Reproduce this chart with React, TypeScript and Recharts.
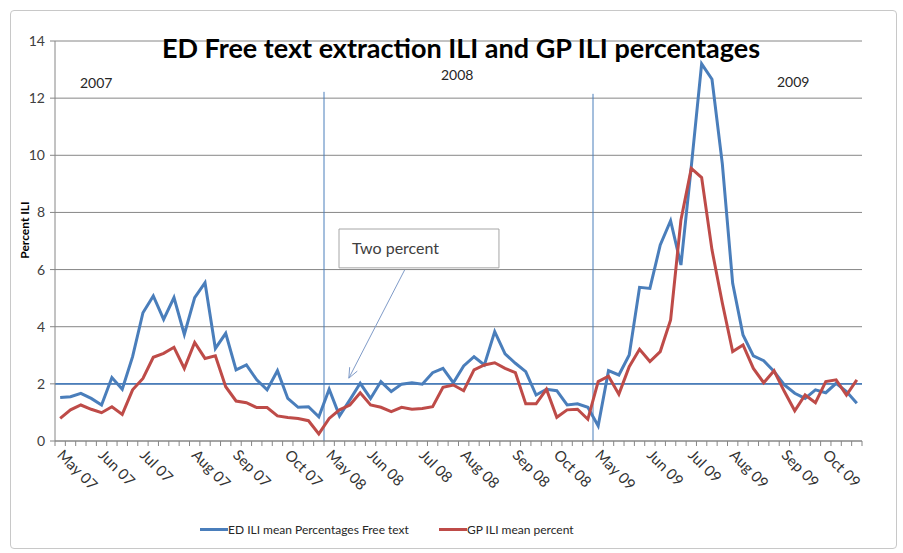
import { CartesianGrid, Legend, Line, LineChart, ReferenceArea, ReferenceLine, XAxis, YAxis } from "recharts";

// weekly points, three May–Oct seasons (26 weeks each)
const monthLabels = [
  "May 07", "Jun 07", "Jul 07", "Aug 07", "Sep 07", "Oct 07",
  "May 08", "Jun 08", "Jul 08", "Aug 08", "Sep 08", "Oct 08",
  "May 09", "Jun 09", "Jul 09", "Aug 09", "Sep 09", "Oct 09",
];
const monthStartWeek = [0, 4, 8, 13, 17, 22, 26, 30, 35, 39, 44, 48, 52, 57, 61, 65, 70, 74];

const edFreeText = [
  1.52, 1.55, 1.67, 1.49, 1.26, 2.22, 1.81, 2.95, 4.49, 5.08, 4.26, 5.02, 3.73,
  5.02, 5.54, 3.24, 3.77, 2.49, 2.66, 2.14, 1.79, 2.46, 1.49, 1.18, 1.2, 0.85,
  1.81, 0.88, 1.44, 2.02, 1.49, 2.08, 1.73, 1.99, 2.04, 1.99, 2.39, 2.54, 2.04,
  2.63, 2.95, 2.66, 3.83, 3.05, 2.72, 2.43, 1.61, 1.81, 1.76, 1.26, 1.3, 1.18,
  0.53, 2.46, 2.31, 3.01, 5.38, 5.34, 6.86, 7.71, 6.16, 9.6, 13.2, 12.66, 9.7,
  5.52, 3.71, 2.98, 2.81, 2.43, 1.96, 1.67, 1.49, 1.79, 1.69, 2.02, 1.73, 1.32,
];
const gpIli = [
  0.79, 1.09, 1.26, 1.11, 0.99, 1.2, 0.93, 1.79, 2.19, 2.93, 3.07, 3.28, 2.54,
  3.45, 2.89, 2.98, 1.9, 1.4, 1.34, 1.17, 1.17, 0.88, 0.82, 0.79, 0.71, 0.25,
  0.79, 1.09, 1.26, 1.69, 1.26, 1.18, 1.03, 1.18, 1.11, 1.14, 1.2, 1.88, 1.96,
  1.76, 2.49, 2.66, 2.74, 2.54, 2.39, 1.3, 1.3, 1.81, 0.83, 1.09, 1.11, 0.76,
  2.08, 2.27, 1.64, 2.6, 3.21, 2.78, 3.13, 4.24, 7.74, 9.54, 9.22, 6.69, 4.83,
  3.13, 3.36, 2.54, 2.04, 2.46, 1.73, 1.06, 1.61, 1.34, 2.08, 2.14, 1.61, 2.14,
];
const yTicks = [0, 2, 4, 6, 8, 10, 12, 14];
const seasonBreaks = [25.5, 51.5];

const FONT = "Lato, 'Open Sans', sans-serif";
const BLUE = "#4a7ebb";
const RED = "#be4b48";
const AXIS = "#868686";
const PLOT_LEFT = 55;
const PLOT_RIGHT = 862;
const HALF_STEP = (PLOT_RIGHT - PLOT_LEFT) / edFreeText.length / 2;

const data = edFreeText.map((ed, i) => ({ week: i, ed, gp: gpIli[i] }));
const boundaryTicks = Array.from({ length: edFreeText.length + 1 }, (_, i) => i - 0.5);

function weekLabel(i: number) {
  const k = monthStartWeek.indexOf(i);
  return k >= 0 ? monthLabels[k] : "";
}

function MonthTick({ x, y, payload }: any) {
  const label = weekLabel(payload.value + 0.5);
  if (!label) return null;
  const cx = x + HALF_STEP - 4;
  const cy = y + 8;
  return (
    <text x={cx} y={cy} transform={`rotate(45 ${cx} ${cy})`} fontSize={15} fill="#333" fontFamily={FONT}>
      {label}
    </text>
  );
}

function Arrow({ x1, y1, x2, y2 }: any) {
  const len = Math.hypot(x1 - x2, y1 - y2);
  const ux = (x1 - x2) / len;
  const uy = (y1 - y2) / len;
  const head = (a: number) => {
    const c = Math.cos(a), s = Math.sin(a);
    return `${x2 + 11 * (ux * c - uy * s)},${y2 + 11 * (ux * s + uy * c)}`;
  };
  return (
    <g stroke="#7f9bc8" strokeWidth={1} fill="none">
      <line x1={x1} y1={y1} x2={x2} y2={y2} />
      <polyline points={`${head(0.4)} ${x2},${y2} ${head(-0.4)}`} />
    </g>
  );
}

function LegendContent() {
  const item = (color: string, text: string) => (
    <span style={{ display: "inline-flex", alignItems: "center", marginRight: 30 }}>
      <span style={{ width: 28, height: 3, background: color, display: "inline-block" }} />
      <span>{text}</span>
    </span>
  );
  return (
    <div style={{ paddingLeft: 200, fontFamily: FONT, fontSize: 12, color: "#262626", height: 22, lineHeight: "22px" }}>
      {item(BLUE, "ED ILI mean Percentages Free text")}
      {item(RED, "GP ILI mean percent")}
    </div>
  );
}

export default function App() {
  return (
    <div style={{ position: "absolute", top: 0, left: 0, width: 903, height: 553, background: "#fff" }}>
      <div style={{ position: "absolute", left: 10, top: 10, width: 885, height: 537, border: "1px solid #c8c8c8", borderRadius: 4 }} />
      <LineChart width={903} height={553} data={data} margin={{ top: 41, right: 41, bottom: 15, left: 0 }}>
        <CartesianGrid vertical={false} stroke={AXIS} />
        <XAxis
          type="number"
          dataKey="week"
          domain={[-0.5, edFreeText.length - 0.5]}
          ticks={boundaryTicks}
          interval={0}
          tick={<MonthTick />}
          tickSize={5}
          tickLine={{ stroke: AXIS }}
          axisLine={{ stroke: AXIS }}
          height={75}
        />
        <YAxis
          domain={[0, 14]}
          ticks={yTicks}
          width={55}
          tickSize={5}
          tickMargin={5}
          tick={{ fontSize: 14, fill: "#404040", fontFamily: FONT }}
          tickLine={{ stroke: AXIS }}
          axisLine={{ stroke: AXIS }}
        />
        <ReferenceLine y={2} stroke={BLUE} strokeWidth={1.8} />
        {seasonBreaks.map((b, i) => (
          <ReferenceLine key={b} segment={[{ x: b, y: i === 0 ? 12.22 : 12.15 }, { x: b, y: 0 }]} stroke={BLUE} strokeWidth={1} />
        ))}
        <ReferenceArea
          x1={26.95}
          x2={42.41}
          y1={6.06}
          y2={7.42}
          fill="#fff"
          fillOpacity={1}
          stroke="#a6a6a6"
          label={{ value: "Two percent", position: "insideLeft", offset: 13, fontSize: 16, fill: "#404040", fontFamily: FONT }}
        />
        <ReferenceLine segment={[{ x: 33.3, y: 5.99 }, { x: 27.9, y: 2.2 }]} shape={<Arrow />} />
        <Line type="linear" dataKey="ed" name="ED ILI mean Percentages Free text" stroke={BLUE} strokeWidth={3} dot={false} isAnimationActive={false} />
        <Line type="linear" dataKey="gp" name="GP ILI mean percent" stroke={RED} strokeWidth={3} dot={false} isAnimationActive={false} />
        <Legend verticalAlign="bottom" height={22} wrapperStyle={{ left: 0, width: 903 }} content={<LegendContent />} />
      </LineChart>
      <svg width={903} height={553} style={{ position: "absolute", top: 0, left: 0, pointerEvents: "none" }} fontFamily={FONT}>
        <text x={461} y={58} textAnchor="middle" fontSize={27} fontWeight="bold" fill="#000">
          ED Free text extraction ILI and GP ILI percentages
        </text>
        <text x={29} y={230} textAnchor="middle" fontSize={12} fontWeight="bold" fill="#000" transform="rotate(-90 29 230)">
          Percent ILI
        </text>
        <text x={80} y={88} fontSize={14} fill="#262626">2007</text>
        <text x={441} y={80} fontSize={14} fill="#262626">2008</text>
        <text x={777} y={87} fontSize={14} fill="#262626">2009</text>
      </svg>
    </div>
  );
}
